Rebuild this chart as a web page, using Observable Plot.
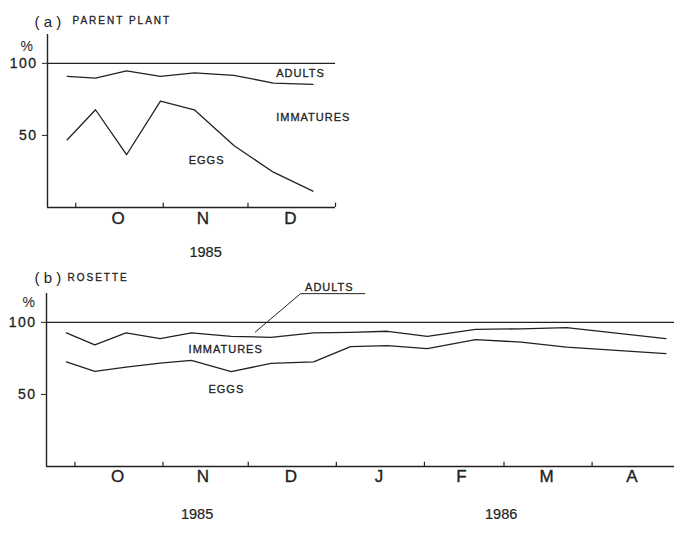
<!DOCTYPE html>
<html><head><meta charset="utf-8">
<script src="https://cdn.jsdelivr.net/npm/d3@7"></script>
<script src="https://cdn.jsdelivr.net/npm/@observablehq/plot@0.6"></script>
<style>
html,body{margin:0;padding:0;background:#fff;}
#chart{position:relative;width:674px;height:533px;overflow:hidden;background:#fff;}
#chart svg{display:block;overflow:visible;position:absolute;left:0;}
</style></head><body><div id="chart"></div>
<script>
// ---- Panel (a) parent plant ----
const sampleDatesA = ["1985-09-28","1985-10-08","1985-10-19","1985-10-31","1985-11-12","1985-11-26","1985-12-10","1985-12-24"];
const adultsBoundaryA = [91, 89.8, 94.7, 91, 93.4, 91.7, 86.3, 85.4];   // % below = eggs + immatures
const eggsBoundaryA   = [47, 67.8, 36.6, 73.8, 67.8, 43, 24.5, 11.3];  // % eggs
const monthStartsA = ["1985-10-01","1985-11-01","1985-12-01","1986-01-01"];
const monthNamesA = ["O","N","D"];
const monthMidsA = ["1985-10-16","1985-11-15","1985-12-16"];
const yearLabelsA = ["1985"];
const yearDatesA = ["1985-11-16"];

// ---- Panel (b) rosette ----
const sampleDatesB = ["1985-09-28","1985-10-08","1985-10-19","1985-10-31","1985-11-11","1985-11-25","1985-12-09","1985-12-24","1986-01-06","1986-01-19","1986-02-02","1986-02-19","1986-03-07","1986-03-23","1986-04-27"];
const adultsBoundaryB = [92.7, 84.4, 92.7, 88.7, 92.7, 90.3, 89.6, 92.7, 93.1, 93.8, 90.3, 95.1, 95.5, 96.3, 88.7];
const eggsBoundaryB   = [72.6, 66, 69, 71.7, 73.6, 65.8, 71.5, 72.6, 83.1, 83.8, 81.7, 88, 86.3, 82.8, 78.3];
const monthStartsB = ["1985-10-01","1985-11-01","1985-12-01","1986-01-01","1986-02-01","1986-03-01","1986-04-01"];
const monthNamesB = ["O","N","D","J","F","M","A"];
const monthMidsB = ["1985-10-16","1985-11-15","1985-12-16","1986-01-16","1986-02-14","1986-03-16","1986-04-15"];
const yearLabelsB = ["1985","1986"];
const yearDatesB = ["1985-11-13","1986-02-28"];

const yTicks = [50, 100];
const pctLabel = "%";

const ink = "#222";
const F = "'Liberation Sans', Arial, Helvetica, sans-serif";
const D = s => new Date(s + "T00:00:00Z");

function rows(dates, up, lo) { return dates.map((d, i) => ({date: D(d), upper: up[i], lower: lo[i]})); }
function months(names, mids) { return names.map((m, i) => ({m, date: D(mids[i])})); }
function years(labels, dates) { return labels.map((t, i) => ({t, date: D(dates[i])})); }

const bold = w => ({stroke: ink, strokeWidth: w, fill: ink});

function commonMarks(data, x0, starts, monthData, yearData, monthDy, yearDy) {
  return [
    Plot.ruleY([100], {stroke: ink, strokeWidth: 1.2}),
    Plot.ruleY([0], {stroke: ink, strokeWidth: 1.4}),
    Plot.ruleX([x0], {y1: 0, y2: 120, stroke: ink, strokeWidth: 1.4}),
    Plot.ruleX(starts.map(D), {y1: 0, y2: 3, stroke: ink, strokeWidth: 1.2}),
    Plot.axisY({ticks: yTicks, tickSize: 5, tickPadding: 5, fontSize: 14, label: null, stroke: ink}),
    Plot.line(data, {x: "date", y: "upper", stroke: ink, strokeWidth: 1.3}),
    Plot.line(data, {x: "date", y: "lower", stroke: ink, strokeWidth: 1.3}),
    Plot.text(monthData, {x: "date", text: "m", frameAnchor: "bottom", dy: monthDy, fontSize: 17, ...bold(0.35)}),
    Plot.text(yearData, {x: "date", text: "t", frameAnchor: "bottom", dy: yearDy, fontSize: 14.5, ...bold(0.2)})
  ];
}

const dataA = rows(sampleDatesA, adultsBoundaryA, eggsBoundaryA);
const x0A = D("1985-09-21"), x1A = D("1986-01-01");
const plotA = Plot.plot({
  width: 674, height: 264,
  marginLeft: 47, marginRight: 339, marginTop: 34, marginBottom: 57,
  style: {fontFamily: F, color: ink, background: "white", overflow: "visible"},
  x: {type: "utc", domain: [x0A, x1A], axis: null},
  y: {domain: [0, 120]},
  marks: [
    ...commonMarks(dataA, x0A, monthStartsA, months(monthNamesA, monthMidsA), years(yearLabelsA, yearDatesA), 16.5, 49),
    Plot.text(["( a )"], {frameAnchor: "top-left", dx: -13, dy: -18, textAnchor: "start", fontSize: 15}),
    Plot.text(["PARENT PLANT"], {frameAnchor: "top-left", dx: 25, dy: -18, textAnchor: "start", fontSize: 10, ...bold(0.3)}),
    Plot.text([pctLabel], {frameAnchor: "top-left", dx: -27, dy: 7, fontSize: 14}),
    Plot.text(["ADULTS"], {x: () => D("1985-12-11"), y: 93, textAnchor: "start", fontSize: 11, ...bold(0.3)}),
    Plot.text(["IMMATURES"], {x: () => D("1985-12-11"), y: 62.5, textAnchor: "start", fontSize: 11, ...bold(0.3)}),
    Plot.text(["EGGS"], {x: () => D("1985-11-10"), y: 32.6, textAnchor: "start", fontSize: 11, ...bold(0.3)})
  ]
});

const dataB = rows(sampleDatesB, adultsBoundaryB, eggsBoundaryB);
const x0B = D("1985-09-21"), x1B = D("1986-04-30");
const leader = [
  {date: new Date(Date.UTC(1985, 11, 3, 12)), v: 93.3},
  {date: new Date(Date.UTC(1985, 11, 19, 10)), v: 119.9},
  {date: D("1986-01-11"), v: 119.9}
];
const plotB = Plot.plot({
  width: 674, height: 269,
  marginLeft: 46, marginRight: 0, marginTop: 29, marginBottom: 67,
  style: {fontFamily: F, color: ink, background: "white", overflow: "visible"},
  x: {type: "utc", domain: [x0B, x1B], axis: null},
  y: {domain: [0, 120]},
  marks: [
    ...commonMarks(dataB, x0B, monthStartsB, months(monthNamesB, monthMidsB), years(yearLabelsB, yearDatesB), 15, 52),
    Plot.text(["( b )"], {frameAnchor: "top-left", dx: -12, dy: -21, textAnchor: "start", fontSize: 15}),
    Plot.text(["ROSETTE"], {frameAnchor: "top-left", dx: 21, dy: -19.5, textAnchor: "start", fontSize: 10, ...bold(0.3)}),
    Plot.text([pctLabel], {frameAnchor: "top-left", dx: -24, dy: 4, fontSize: 14}),
    Plot.line(leader, {x: "date", y: "v", stroke: ink, strokeWidth: 1}),
    Plot.text(["ADULTS"], {x: () => D("1985-12-21"), y: 124.3, textAnchor: "start", fontSize: 11, ...bold(0.3)}),
    Plot.text(["IMMATURES"], {x: () => D("1985-11-10"), y: 81.3, textAnchor: "start", fontSize: 11, ...bold(0.3)}),
    Plot.text(["EGGS"], {x: () => D("1985-11-17"), y: 53.5, textAnchor: "start", fontSize: 11, ...bold(0.3)})
  ]
});

const chart = document.getElementById("chart");
plotA.style.top = "0px";
plotB.style.top = "264px";
chart.appendChild(plotA);
chart.appendChild(plotB);

// letter spacing for the small capitals and tick numbers; slight weight on tick numbers
for (const svg of [plotA, plotB]) {
  d3.select(svg).selectAll("text").each(function () {
    const t = this.textContent;
    if (t === "PARENT PLANT" || t === "ROSETTE") this.setAttribute("letter-spacing", "2");
    else if (/^[A-Z]{4,}$/.test(t)) this.setAttribute("letter-spacing", "1");
    else if (t === "100" || t === "50") {
      this.setAttribute("letter-spacing", "1.5");
      this.setAttribute("stroke", ink);
      this.setAttribute("stroke-width", "0.3");
      this.setAttribute("paint-order", "stroke");
    }
  });
}
</script></body></html>
